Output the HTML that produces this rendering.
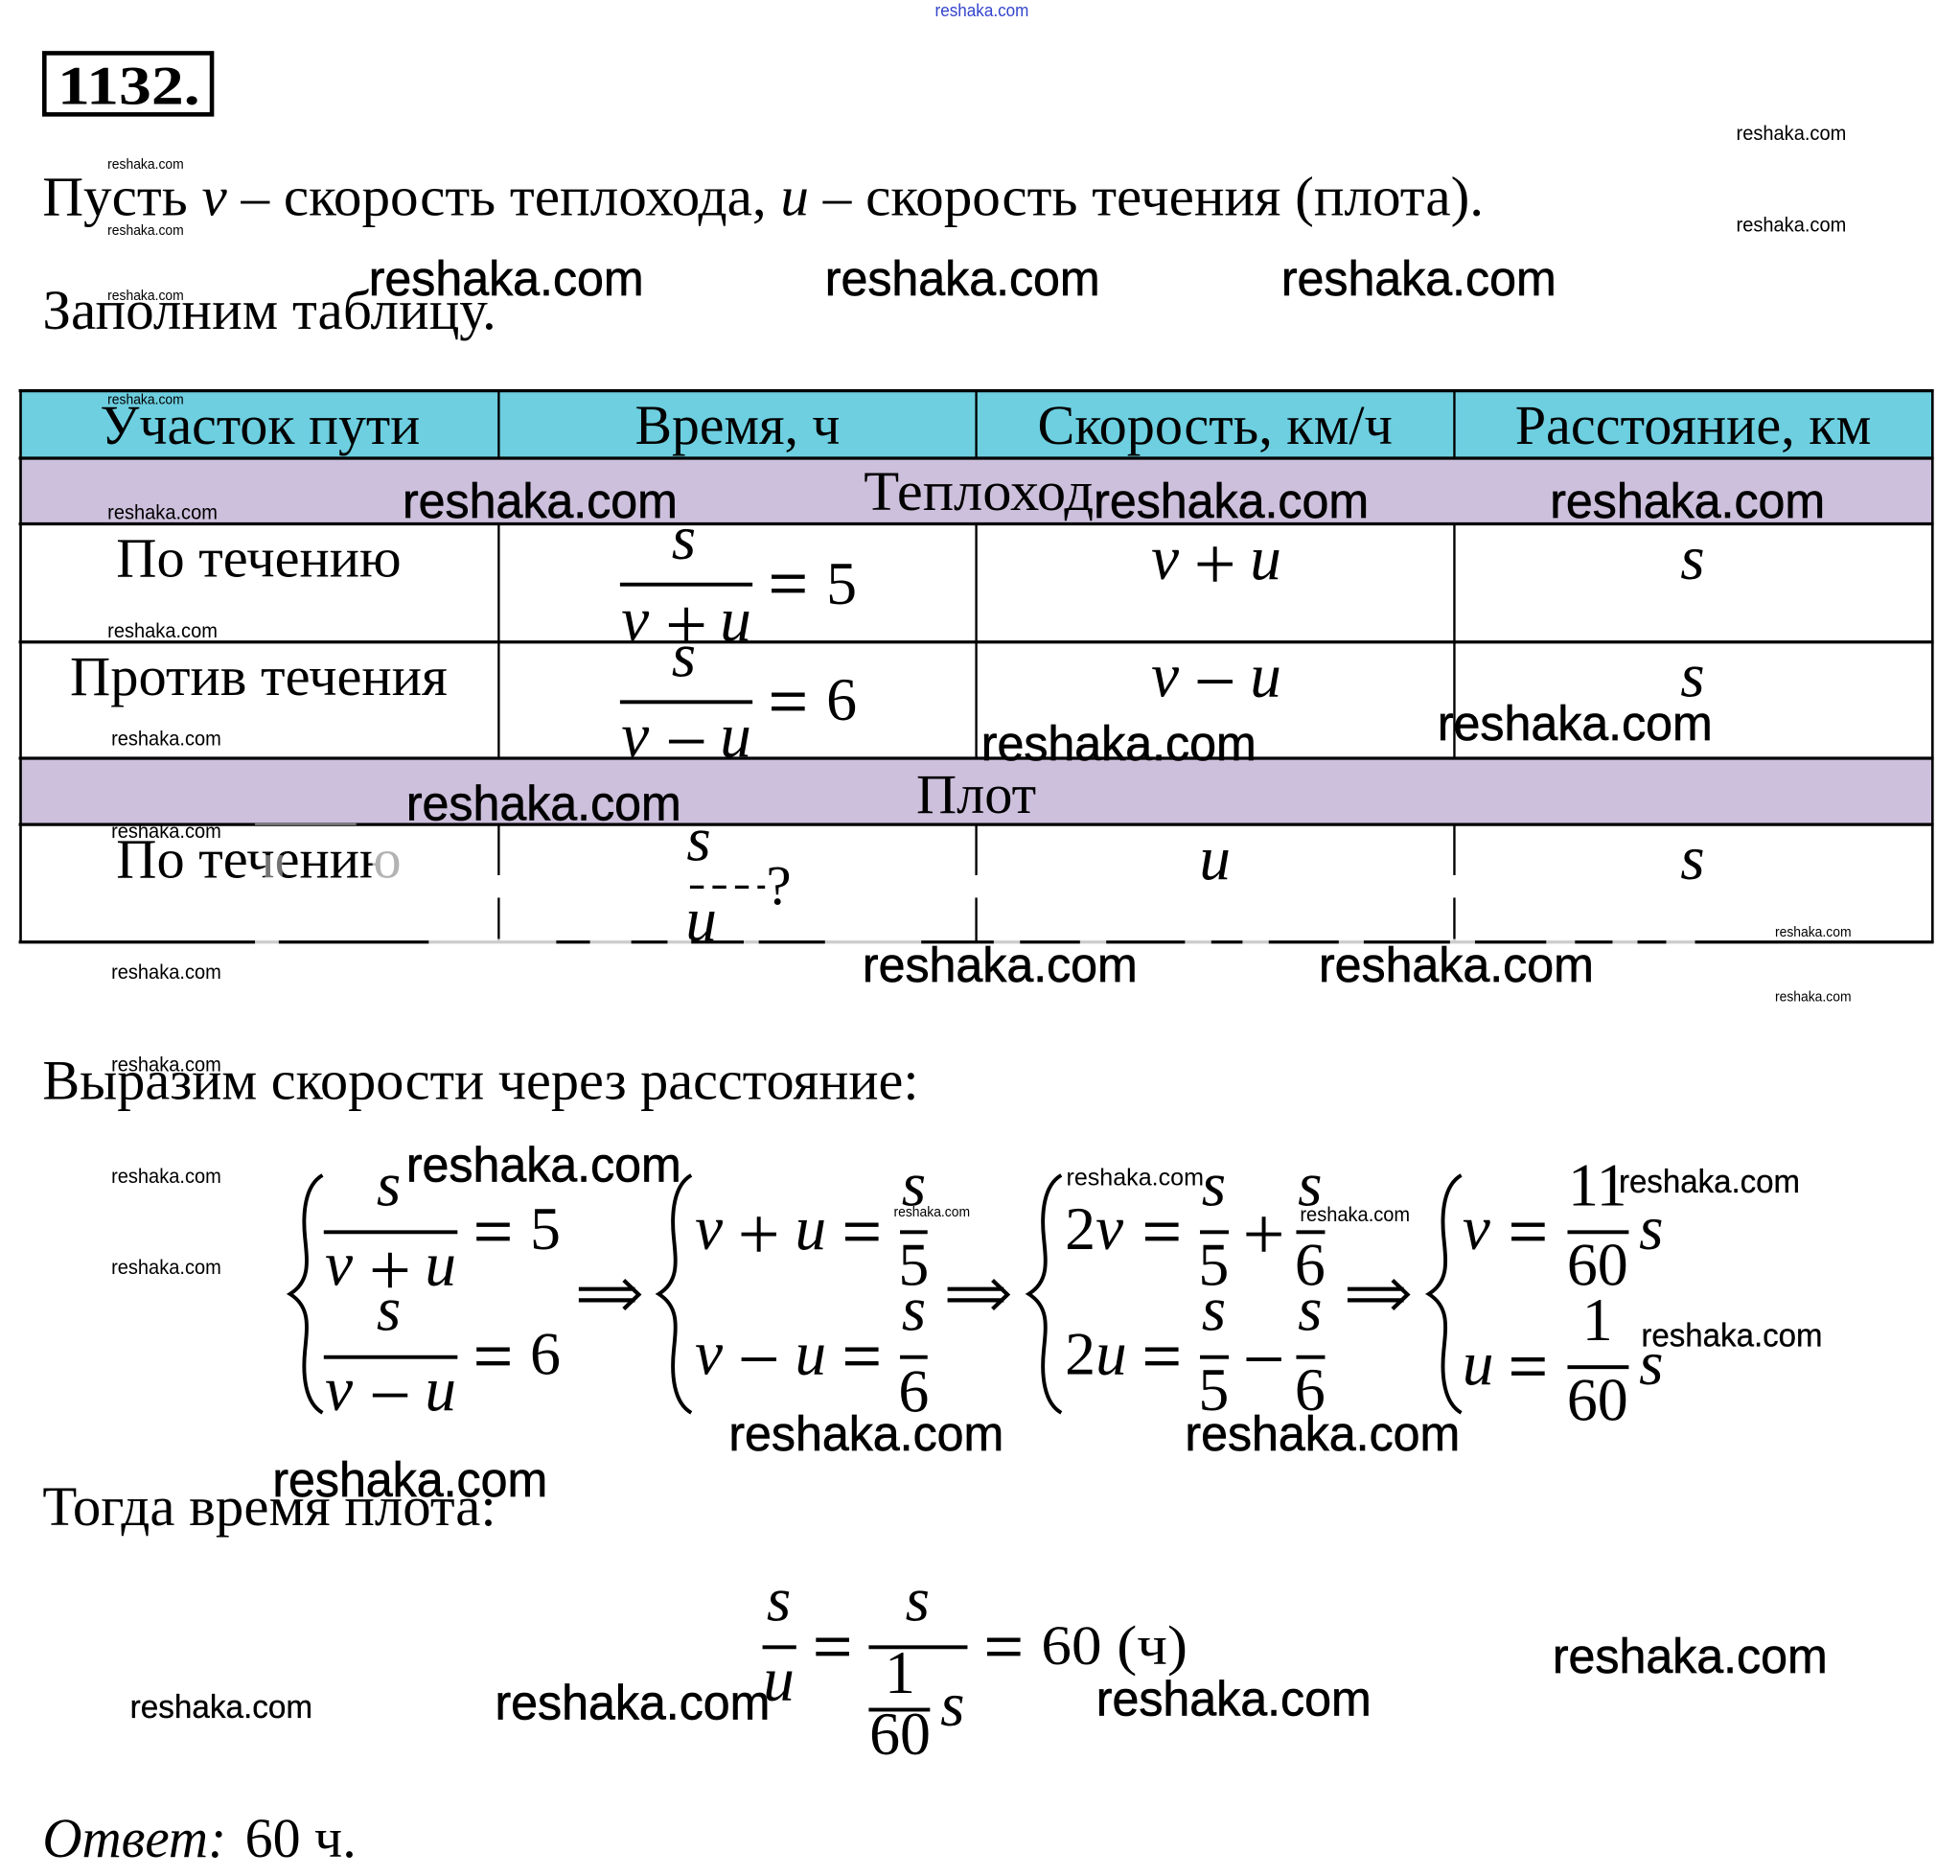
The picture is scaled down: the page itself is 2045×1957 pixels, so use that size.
<!DOCTYPE html>
<html lang="ru"><head><meta charset="utf-8"><title>1132</title>
<style>
html,body{margin:0;padding:0;background:#fff;width:2045px;height:1957px;overflow:hidden}
svg{display:block;font-size:45px}
text{font-family:"Liberation Serif","DejaVu Serif",serif;fill:#000}
.it{font-style:italic}
.i{font-style:italic;font-size:50px}
.d{font-size:49px}
.e{font-size:56px;text-anchor:middle;stroke:#000;stroke-width:.5}
.p{font-size:60px;text-anchor:middle}
.c{text-anchor:middle}
.w{font-family:"Liberation Sans",sans-serif;font-size:39px;stroke:#000;stroke-width:.5}
.s{font-family:"Liberation Sans",sans-serif;font-size:16px}
.x{font-family:"Liberation Sans",sans-serif;font-size:11px}
.g{font-family:"Liberation Sans",sans-serif;font-size:26px;stroke:#000;stroke-width:.25}
.b{fill:none;stroke:#000;stroke-width:3}
.a{fill:none;stroke:#000;stroke-width:3.200}
</style></head><body>
<svg xmlns="http://www.w3.org/2000/svg" width="2045" height="1957" viewBox="0 0 1568 1500.500">
<rect width="1568" height="1501" fill="#fff"/>
<!-- number -->
<rect x="35.500" y="42.500" width="134" height="49" fill="#fff" stroke="#000" stroke-width="3.500"/>
<text x="46" y="83" font-weight="bold" style="font-size:44px" textLength="114" lengthAdjust="spacingAndGlyphs">1132.</text>
<!-- paragraphs -->
<text x="34" y="172" textLength="1153" lengthAdjust="spacingAndGlyphs">Пусть <tspan class="it">v</tspan> – скорость теплохода, <tspan class="it">u</tspan> – скорость течения (плота).</text>
<text x="34" y="263" textLength="363" lengthAdjust="spacingAndGlyphs">Заполним таблицу.</text>
<text x="34" y="879" textLength="701" lengthAdjust="spacingAndGlyphs">Выразим скорости через расстояние:</text>
<text x="34" y="1220" textLength="363" lengthAdjust="spacingAndGlyphs">Тогда время плота:</text>
<text x="34" y="1485" class="it" textLength="147" lengthAdjust="spacingAndGlyphs">Ответ:</text>
<text x="196" y="1485" textLength="89" lengthAdjust="spacingAndGlyphs">60 ч.</text>
<!-- table -->
<rect x="16" y="312" width="1530" height="54" fill="#6dcfe0"/>
<rect x="16" y="366" width="1530" height="53" fill="#cdc0dc"/>
<rect x="16" y="606" width="1530" height="53" fill="#cdc0dc"/>
<g stroke="#000" fill="none">
<path d="M15 312.500H1547M15 366.500H1547M15 419H1547M15 513.500H1547M15 606.500H1547M15 659.500H1547M15 753.500H1547" stroke-width="2.500"/>
<path d="M16.500 312V754M1546 312V754" stroke-width="2"/>
<path d="M399 312V366M781 312V366M1163.500 312V366M399 419V606M781 419V606M1163.500 419V606M399 659V753M781 659V753M1163.500 659V753" stroke-width="1.800"/>
</g>
<!-- table text -->
<text x="80" y="355" textLength="256" lengthAdjust="spacingAndGlyphs">Участок пути</text>
<text x="508" y="355" textLength="164" lengthAdjust="spacingAndGlyphs">Время, ч</text>
<text x="830" y="355" textLength="284" lengthAdjust="spacingAndGlyphs">Скорость, км/ч</text>
<text x="1212" y="355" textLength="285" lengthAdjust="spacingAndGlyphs">Расстояние, км</text>
<text x="691" y="408" textLength="184" lengthAdjust="spacingAndGlyphs">Теплоход</text>
<text x="733" y="650" textLength="96" lengthAdjust="spacingAndGlyphs">Плот</text>
<text x="93" y="461" textLength="228" lengthAdjust="spacingAndGlyphs">По течению</text>
<text x="56" y="556" textLength="302" lengthAdjust="spacingAndGlyphs">Против течения</text>
<text x="93" y="702" textLength="228" lengthAdjust="spacingAndGlyphs">По течению</text>
<!-- table math -->
<g>
<text x="547" y="447" class="i c">s</text>
<rect x="496" y="466" width="106" height="3"/>
<text x="497" y="512" class="i">v</text><text x="549" y="520" class="p">+</text><text x="601" y="512" class="i" text-anchor="end">u</text>
<text x="630.500" y="485.500" class="e">=</text><text x="661" y="483" class="d">5</text>
<text x="547" y="541" class="i c">s</text>
<rect x="496" y="560" width="106" height="3"/>
<text x="497" y="605" class="i">v</text><text x="549" y="613" class="p">−</text><text x="601" y="605" class="i" text-anchor="end">u</text>
<text x="630.500" y="579.500" class="e">=</text><text x="661" y="576" class="d">6</text>
<text x="559" y="688" class="i c">s</text>
<path d="M552 709.500H612" stroke="#000" stroke-width="2.500" stroke-dasharray="11 7 11 7"/>
<text x="613" y="723">?</text>
<text x="561" y="752" class="i c">u</text>
<text x="921" y="463" class="i">v</text><text x="972" y="471" class="p">+</text><text x="1025" y="463" class="i" text-anchor="end">u</text>
<text x="921" y="557" class="i">v</text><text x="972" y="565" class="p">−</text><text x="1025" y="557" class="i" text-anchor="end">u</text>
<text x="972" y="703" class="i c">u</text>
<text x="1354" y="463" class="i c">s</text>
<text x="1354" y="557" class="i c">s</text>
<text x="1354" y="703" class="i c">s</text>
</g>
<!-- smears -->
<g fill="#fff">
<rect x="204" y="658.500" width="81" height="1.500" opacity=".5"/>
<rect x="212" y="684" width="14" height="20" opacity=".45"/>
<rect x="298" y="672" width="24" height="32" opacity=".7"/>
<rect x="396" y="700" width="6" height="18"/><rect x="778" y="700" width="6" height="18"/><rect x="1160" y="700" width="6" height="18"/>
<g opacity=".8">
<rect x="204" y="751" width="19" height="5"/><rect x="343" y="751" width="102" height="5"/><rect x="472" y="751" width="33" height="5"/><rect x="534" y="751" width="19" height="5"/><rect x="595" y="751" width="12" height="5"/><rect x="660" y="751" width="77" height="5"/><rect x="795" y="751" width="21" height="5"/><rect x="864" y="751" width="21" height="5"/><rect x="948" y="751" width="21" height="5"/><rect x="994" y="751" width="21" height="5"/><rect x="1071" y="751" width="20" height="5"/><rect x="1160" y="751" width="20" height="5"/><rect x="1237" y="751" width="23" height="5"/><rect x="1290" y="751" width="20" height="5"/><rect x="1333" y="751" width="23" height="5"/>
</g>
</g>
<!-- system 1 -->
<path class="b" transform="translate(232,940)" d="M26,0C12,8 10,30 12,50C14,70 16,85 0,95C16,105 14,120 12,140C10,160 12,182 26,190"/>
<text x="311" y="964" class="i c">s</text><rect x="259" y="984" width="107" height="3"/>
<text x="260" y="1028" class="i">v</text><text x="312" y="1036" class="p">+</text><text x="365" y="1028" class="i" text-anchor="end">u</text>
<text x="394.500" y="1003.500" class="e">=</text><text x="424" y="999" class="d">5</text>
<text x="311" y="1064" class="i c">s</text><rect x="259" y="1084" width="107" height="3"/>
<text x="260" y="1128" class="i">v</text><text x="312" y="1136" class="p">−</text><text x="365" y="1128" class="i" text-anchor="end">u</text>
<text x="394.500" y="1103.500" class="e">=</text><text x="424" y="1099" class="d">6</text>
<path class="a" d="M463 1031H508M463 1040H508M499 1024L511 1035.500L499 1047"/>
<!-- system 2 -->
<path class="b" transform="translate(527,940)" d="M26,0C12,8 10,30 12,50C14,70 16,85 0,95C16,105 14,120 12,140C10,160 12,182 26,190"/>
<text x="556" y="999" class="i">v</text><text x="607" y="1007" class="p">+</text><text x="661" y="999" class="i" text-anchor="end">u</text><text x="689.500" y="1003.500" class="e">=</text>
<text x="731" y="964" class="i c">s</text><rect x="720" y="984" width="22" height="3"/><text x="731" y="1028" class="d c">5</text>
<text x="556" y="1099" class="i">v</text><text x="607" y="1107" class="p">−</text><text x="661" y="1099" class="i" text-anchor="end">u</text><text x="689.500" y="1103.500" class="e">=</text>
<text x="731" y="1064" class="i c">s</text><rect x="720" y="1084" width="22" height="3"/><text x="731" y="1129" class="d c">6</text>
<path class="a" d="M758 1031H803M758 1040H803M794 1024L806 1035.500L794 1047"/>
<!-- system 3 -->
<path class="b" transform="translate(823,940)" d="M26,0C12,8 10,30 12,50C14,70 16,85 0,95C16,105 14,120 12,140C10,160 12,182 26,190"/>
<text x="852" y="999" class="d">2<tspan class="i">v</tspan></text><text x="929.500" y="1003.500" class="e">=</text>
<text x="971" y="964" class="i c">s</text><rect x="960" y="984" width="23" height="3"/><text x="971" y="1028" class="d c">5</text>
<text x="1011" y="1007" class="p">+</text>
<text x="1048" y="964" class="i c">s</text><rect x="1037" y="984" width="23" height="3"/><text x="1048" y="1028" class="d c">6</text>
<text x="852" y="1099" class="d">2<tspan class="i">u</tspan></text><text x="929.500" y="1103.500" class="e">=</text>
<text x="971" y="1064" class="i c">s</text><rect x="960" y="1084" width="23" height="3"/><text x="971" y="1128" class="d c">5</text>
<text x="1011" y="1107" class="p">−</text>
<text x="1048" y="1064" class="i c">s</text><rect x="1037" y="1084" width="23" height="3"/><text x="1048" y="1128" class="d c">6</text>
<path class="a" d="M1078 1031H1123M1078 1040H1123M1114 1024L1126 1035.500L1114 1047"/>
<!-- system 4 -->
<path class="b" transform="translate(1143,940)" d="M26,0C12,8 10,30 12,50C14,70 16,85 0,95C16,105 14,120 12,140C10,160 12,182 26,190"/>
<text x="1170" y="999" class="i">v</text><text x="1222.500" y="1003.500" class="e">=</text>
<text x="1278" y="964" class="d c">11</text><rect x="1254" y="984" width="49" height="3"/><text x="1278" y="1028" class="d c">60</text>
<text x="1321" y="999" class="i c">s</text>
<text x="1170" y="1107" class="i">u</text><text x="1222.500" y="1111.500" class="e">=</text>
<text x="1278" y="1072" class="d c">1</text><rect x="1254" y="1092" width="49" height="3"/><text x="1278" y="1136" class="d c">60</text>
<text x="1321" y="1107" class="i c">s</text>
<!-- final -->
<text x="623" y="1296" class="i c">s</text><rect x="610" y="1316" width="27" height="3"/><text x="623" y="1360" class="i c">u</text>
<text x="666" y="1335.500" class="e">=</text>
<text x="734" y="1296" class="i c">s</text><rect x="695" y="1316" width="79" height="3"/>
<text x="720" y="1354" class="d c">1</text><rect x="695" y="1366" width="49" height="3"/><text x="720" y="1403" class="d c">60</text>
<text x="762" y="1380" class="i c">s</text>
<text x="803" y="1335.500" class="e">=</text>
<text x="833" y="1331" textLength="117" lengthAdjust="spacingAndGlyphs">60 (ч)</text>
<!-- watermarks -->
<text x="748" y="13" class="x" style="font-size:14px;fill:#3344cc" textLength="75" lengthAdjust="spacingAndGlyphs">reshaka.com</text>
<g>
<text class="s" x="1389" y="112" textLength="88" lengthAdjust="spacingAndGlyphs">reshaka.com</text>
<text class="s" x="1389" y="185" textLength="88" lengthAdjust="spacingAndGlyphs">reshaka.com</text>
<text class="x" x="86" y="135" textLength="61" lengthAdjust="spacingAndGlyphs">reshaka.com</text>
<text class="x" x="86" y="188" textLength="61" lengthAdjust="spacingAndGlyphs">reshaka.com</text>
<text class="x" x="86" y="240" textLength="61" lengthAdjust="spacingAndGlyphs">reshaka.com</text>
<text class="x" x="86" y="323" textLength="61" lengthAdjust="spacingAndGlyphs">reshaka.com</text>
<text class="w" x="295" y="236" textLength="220" lengthAdjust="spacingAndGlyphs">reshaka.com</text>
<text class="w" x="660" y="236" textLength="220" lengthAdjust="spacingAndGlyphs">reshaka.com</text>
<text class="w" x="1025" y="236" textLength="220" lengthAdjust="spacingAndGlyphs">reshaka.com</text>
<text class="w" x="322" y="414" textLength="220" lengthAdjust="spacingAndGlyphs">reshaka.com</text>
<text class="w" x="875" y="414" textLength="220" lengthAdjust="spacingAndGlyphs">reshaka.com</text>
<text class="w" x="1240" y="414" textLength="220" lengthAdjust="spacingAndGlyphs">reshaka.com</text>
<text class="s" x="86" y="415" textLength="88" lengthAdjust="spacingAndGlyphs">reshaka.com</text>
<text class="s" x="86" y="510" textLength="88" lengthAdjust="spacingAndGlyphs">reshaka.com</text>
<text class="s" x="89" y="596" textLength="88" lengthAdjust="spacingAndGlyphs">reshaka.com</text>
<text class="w" x="785" y="608" textLength="220" lengthAdjust="spacingAndGlyphs">reshaka.com</text>
<text class="w" x="1150" y="592" textLength="220" lengthAdjust="spacingAndGlyphs">reshaka.com</text>
<text class="w" x="325" y="656" textLength="220" lengthAdjust="spacingAndGlyphs">reshaka.com</text>
<text class="s" x="89" y="670" textLength="88" lengthAdjust="spacingAndGlyphs">reshaka.com</text>
<text class="x" x="1420" y="749" textLength="61" lengthAdjust="spacingAndGlyphs">reshaka.com</text>
<text class="x" x="1420" y="801" textLength="61" lengthAdjust="spacingAndGlyphs">reshaka.com</text>
<text class="w" x="690" y="785" textLength="220" lengthAdjust="spacingAndGlyphs">reshaka.com</text>
<text class="w" x="1055" y="785" textLength="220" lengthAdjust="spacingAndGlyphs">reshaka.com</text>
<text class="s" x="89" y="783" textLength="88" lengthAdjust="spacingAndGlyphs">reshaka.com</text>
<text class="s" x="89" y="857" textLength="88" lengthAdjust="spacingAndGlyphs">reshaka.com</text>
<text class="s" x="89" y="946" textLength="88" lengthAdjust="spacingAndGlyphs">reshaka.com</text>
<text class="s" x="89" y="1019" textLength="88" lengthAdjust="spacingAndGlyphs">reshaka.com</text>
<text class="w" x="325" y="945" textLength="220" lengthAdjust="spacingAndGlyphs">reshaka.com</text>
<text class="s" x="853" y="948" style="font-size:19px" textLength="110" lengthAdjust="spacingAndGlyphs">reshaka.com</text>
<text class="x" x="715" y="973" textLength="61" lengthAdjust="spacingAndGlyphs">reshaka.com</text>
<text class="s" x="1040" y="977" textLength="88" lengthAdjust="spacingAndGlyphs">reshaka.com</text>
<text class="g" x="1295" y="954" textLength="145" lengthAdjust="spacingAndGlyphs">reshaka.com</text>
<text class="g" x="1313" y="1077" textLength="145" lengthAdjust="spacingAndGlyphs">reshaka.com</text>
<text class="w" x="583" y="1160" textLength="220" lengthAdjust="spacingAndGlyphs">reshaka.com</text>
<text class="w" x="948" y="1160" textLength="220" lengthAdjust="spacingAndGlyphs">reshaka.com</text>
<text class="w" x="218" y="1197" textLength="220" lengthAdjust="spacingAndGlyphs">reshaka.com</text>
<text class="g" x="104" y="1374" textLength="146" lengthAdjust="spacingAndGlyphs">reshaka.com</text>
<text class="w" x="396" y="1375" textLength="220" lengthAdjust="spacingAndGlyphs">reshaka.com</text>
<text class="w" x="877" y="1372" textLength="220" lengthAdjust="spacingAndGlyphs">reshaka.com</text>
<text class="w" x="1242" y="1338" textLength="220" lengthAdjust="spacingAndGlyphs">reshaka.com</text>
</g>
</svg>
</body></html>
